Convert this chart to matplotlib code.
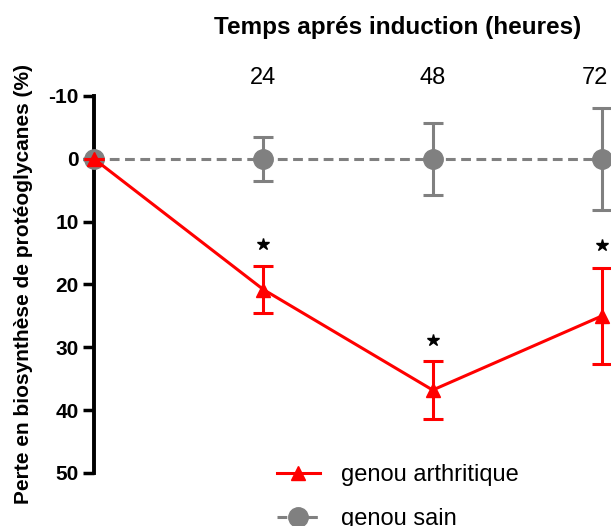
import matplotlib
matplotlib.use('Agg')
import matplotlib.pyplot as plt
from matplotlib.lines import Line2D
from matplotlib.transforms import ScaledTranslation

plt.rcParams['font.family'] = ['Liberation Sans', 'DejaVu Sans']
plt.rcParams['axes.unicode_minus'] = False

# Data (hours after induction)
hours = [0, 24, 48, 72]
arth_mean = [0, 20.8, 36.8, 25.0]
arth_err = [0, 3.8, 4.6, 7.6]
sain_mean = [0, 0, 0, 0]
sain_err = [0, 3.5, 5.7, 8.1]
star_hours = [24, 48, 72]
star_y = [13.6, 28.9, 13.7]

red = '#ff0000'
grey = '#808080'
dash = (0, (3.2, 1.8))

fig = plt.figure(figsize=(6.11, 5.26), dpi=100)
ax = fig.add_axes([0.1538, 0.1008, 0.8315, 0.7167])

ax.errorbar(hours, sain_mean, yerr=sain_err, color=grey, lw=2.2, ls=dash,
            marker='o', ms=14, capsize=7, capthick=2.2, elinewidth=2.2,
            clip_on=False, zorder=3)
ax.errorbar(hours, arth_mean, yerr=arth_err, color=red, lw=2.2,
            marker='^', ms=10, capsize=7, capthick=2.2, elinewidth=2.2,
            clip_on=False, zorder=4)
ax.plot(star_hours, star_y, ls='none', marker='*', ms=9, color='black',
        clip_on=False)

ax.set_xlim(0, 72)
ax.set_ylim(50, -10)
ax.set_yticks([-10, 0, 10, 20, 30, 40, 50])
ax.set_xticks([24, 48, 72])
ax.xaxis.tick_top()
ax.tick_params(axis='x', length=0, labelsize=17, pad=5)
ax.tick_params(axis='y', length=8, width=2.5, labelsize=15, pad=3)
for lab in ax.get_yticklabels():
    lab.set_fontweight('bold')

# last top label sits a bit left so it stays inside the figure
last = ax.xaxis.get_major_ticks()[-1].label2
last.set_transform(last.get_transform() + ScaledTranslation(-7 / 100, 0, fig.dpi_scale_trans))

for s in ['top', 'right', 'bottom']:
    ax.spines[s].set_visible(False)
ax.spines['left'].set_linewidth(2.8)

ax.set_ylabel('Perte en biosynthèse de protéoglycanes (%)', fontsize=15,
              fontweight='bold', labelpad=11)
fig.text(0.65, 0.948, 'Temps aprés induction (heures)', ha='center', va='center',
         fontsize=17.5, fontweight='bold')

handles = [Line2D([], [], color=red, lw=2.2, marker='^', ms=10),
           Line2D([], [], color=grey, lw=2.2, ls=dash, marker='o', ms=14)]
fig.legend(handles, ['genou arthritique', 'genou sain'], loc='upper left',
           bbox_to_anchor=(0.438, 0.136), frameon=False, fontsize=17,
           handlelength=1.8, labelspacing=0.95, handletextpad=0.9,
           borderaxespad=0)

fig.savefig('out.png', dpi=100)
